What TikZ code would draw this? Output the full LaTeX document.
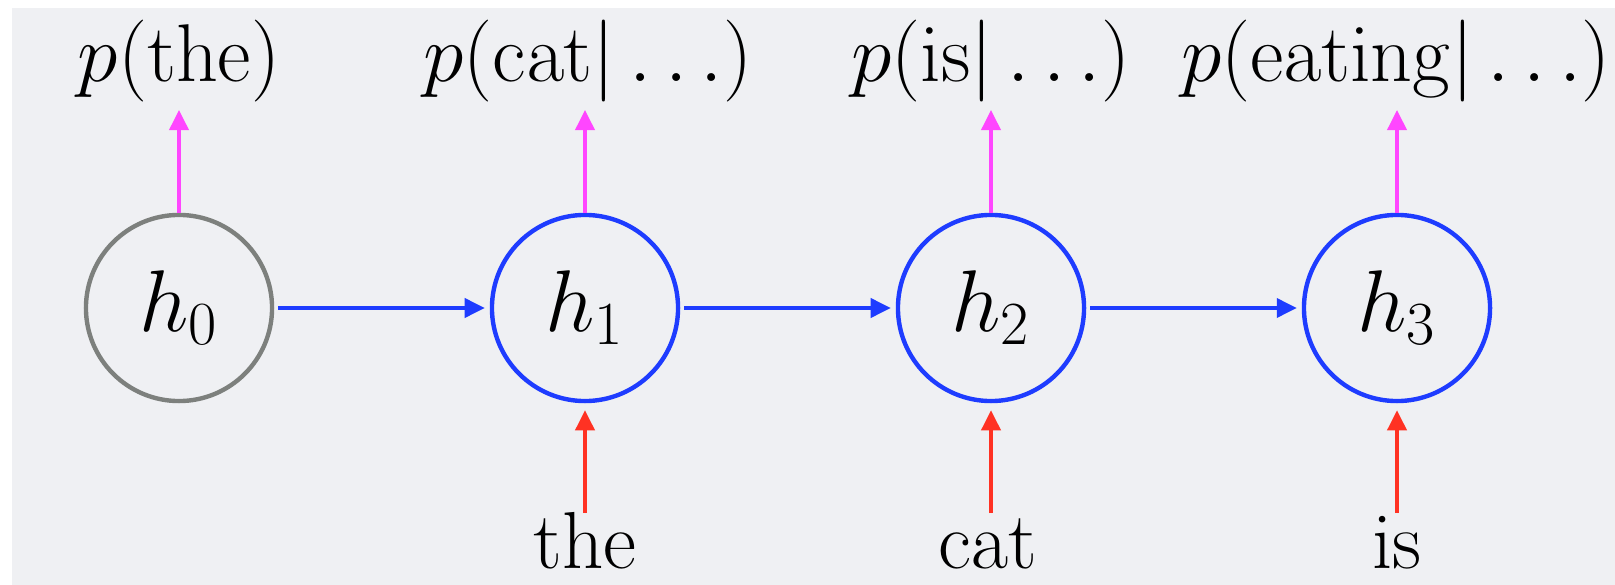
\documentclass[tikz,border=0pt]{standalone}
\usepackage{fix-cm}
\usetikzlibrary{arrows.meta}
\definecolor{bgc}{RGB}{239,240,243}
\definecolor{nodeblue}{RGB}{30,60,255}
\definecolor{outpink}{RGB}{255,70,255}
\definecolor{inred}{RGB}{255,50,35}
\definecolor{hgray}{RGB}{125,128,125}
\tikzset{
  px/.style={x=0.01cm,y=-0.01cm},
  state/.style={circle,draw=nodeblue,line width=1.25pt,minimum size=1.86cm,inner sep=0pt,font=\fontsize{24.9}{29}\selectfont},
  initstate/.style={state,draw=hgray},
  lbl/.style={inner sep=0pt,anchor=base,font=\fontsize{23.3}{28}\selectfont},
  inlbl/.style={lbl,font=\fontsize{23}{27}\selectfont},
  arr/.style={line width=1.05pt,-{Triangle[length=0.2cm,width=0.19cm]}},
  rec/.style={arr,draw=nodeblue,fill=nodeblue,shorten <=0.04cm,shorten >=0.05cm},
  outarr/.style={arr,draw=outpink,fill=outpink},
  inarr/.style={arr,draw=inred,fill=inred,shorten >=0.07cm}
}
\begin{document}
\begin{tikzpicture}[px]
\useasboundingbox (0,0) rectangle (1615,585);
\fill[white] (0,0) rectangle (1615,585);
\fill[bgc] (12,8) rectangle (1615,585);
% states
\node[initstate] (h0) at (179,308) {$h_0$};
\node[state] (h1) at (585,308) {$h_1$};
\node[state] (h2) at (991,308) {$h_2$};
\node[state] (h3) at (1397,308) {$h_3$};
% top labels
\node[lbl] (o0) at (179,82) {$p(\mathrm{the})$};
\node[lbl] (o1) at (588,82) {$p(\mathrm{cat}|\ldots)$};
\node[lbl] (o2) at (991,82) {$p(\mathrm{is}|\ldots)$};
\node[lbl] (o3) at (1396,82) {$p(\mathrm{eating}|\ldots)$};
% bottom labels
\node[inlbl] (i1) at (585,568) {the};
\node[inlbl] (i2) at (988,568) {cat};
\node[inlbl] (i3) at (1397,568) {is};
% free ends
\coordinate (ot0) at (179,110);
\coordinate (ot1) at (585,110);
\coordinate (ot2) at (991,110);
\coordinate (ot3) at (1397,110);
\coordinate (ib1) at (585,513);
\coordinate (ib2) at (991,513);
\coordinate (ib3) at (1397,513);
% recurrent arrows
\draw[rec] (h0.east) -- (h1.west);
\draw[rec] (h1.east) -- (h2.west);
\draw[rec] (h2.east) -- (h3.west);
% outputs
\foreach \i in {0,1,2,3}{
  \draw[outarr] (h\i.north) -- (ot\i);
}
% inputs
\foreach \i in {1,2,3}{
  \draw[inarr] (ib\i) -- (h\i.south);
}
\end{tikzpicture}
\end{document}
